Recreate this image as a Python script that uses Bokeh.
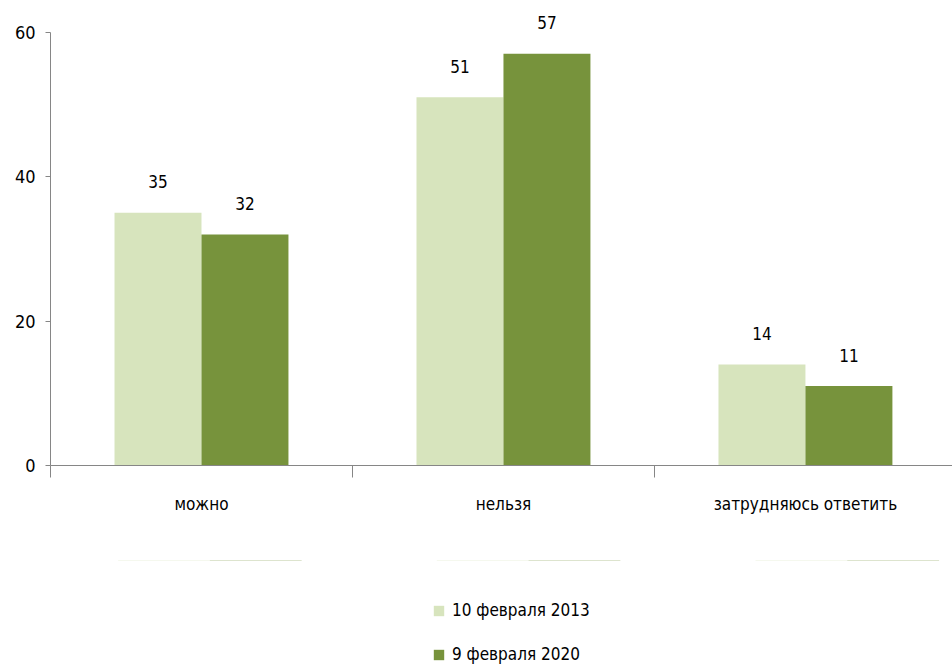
import numpy as np
from bokeh.plotting import figure
from bokeh.layouts import column
from bokeh.models import (ColumnDataSource, Range1d, LinearAxis, FixedTicker,
                          Legend, LegendItem)
from bokeh.core.properties import value
from bokeh.embed import file_html
from bokeh.resources import INLINE

categories = ["можно", "нельзя", "затрудняюсь ответить"]
series_names = ["10 февраля 2013", "9 февраля 2020"]
values_2013 = [35, 51, 14]
values_2020 = [32, 57, 11]
y_ticks = [0, 20, 40, 60]

colors = ["#d7e4bd", "#77933c"]
FONT = "DejaVu Sans Condensed"

idx = np.arange(len(categories))
bar_w = 0.288
src1 = ColumnDataSource(dict(x=idx + 0.5 - bar_w / 2, top=values_2013,
                             lab=[str(v) for v in values_2013]))
src2 = ColumnDataSource(dict(x=idx + 0.5 + bar_w / 2, top=values_2020,
                             lab=[str(v) for v in values_2020]))

p = figure(frame_width=902, frame_height=455,
           x_range=Range1d(0, 2.987), y_range=Range1d(0, 63),
           output_backend="svg", toolbar_location=None,
           x_axis_location=None, y_axis_location=None,
           min_border_left=50, min_border_top=10, min_border_right=0,
           min_border_bottom=95)
p.outline_line_color = None
p.xgrid.visible = False
p.ygrid.visible = False

r1 = p.vbar(x="x", top="top", width=bar_w, bottom=0, source=src1,
            fill_color=colors[0], line_color=None)
r2 = p.vbar(x="x", top="top", width=bar_w, bottom=0, source=src2,
            fill_color=colors[1], line_color=None)

for s in (src1, src2):
    p.text(x="x", y="top", text="lab", source=s, y_offset=-31,
           text_align="center", text_baseline="middle",
           text_font=value(FONT), text_font_size="17px", text_color="#000000")

axis_color = "#868686"
yaxis = LinearAxis(ticker=FixedTicker(ticks=y_ticks), bounds=(0, 60))
yaxis.axis_line_color = axis_color
yaxis.major_tick_line_color = axis_color
yaxis.major_tick_out = 5
yaxis.major_tick_in = 0
yaxis.minor_tick_line_color = None
yaxis.major_label_standoff = 10
yaxis.major_label_text_font = FONT
yaxis.major_label_text_font_size = "18px"
yaxis.major_label_text_color = "#000000"
p.add_layout(yaxis, "left")

xaxis = LinearAxis(ticker=FixedTicker(ticks=list(idx + 0.5),
                                      minor_ticks=list(range(len(categories) + 1))))
xaxis.major_label_overrides = {float(i + 0.5): c for i, c in enumerate(categories)}
xaxis.axis_line_color = axis_color
xaxis.major_tick_line_color = None
xaxis.major_tick_out = 0
xaxis.major_tick_in = 0
xaxis.minor_tick_line_color = axis_color
xaxis.minor_tick_out = 12
xaxis.minor_tick_in = 0
xaxis.major_label_standoff = 16
xaxis.major_label_text_font = FONT
xaxis.major_label_text_font_size = "17px"
xaxis.major_label_text_color = "#000000"
p.add_layout(xaxis, "below")

# Legend strip: second figure; its swatch renderers are zero-height bars outside the view
p2 = figure(frame_width=952, frame_height=104,
            x_range=Range1d(0, 2.987), y_range=Range1d(0, 1),
            output_backend="svg", toolbar_location=None,
            x_axis_location=None, y_axis_location=None,
            min_border_left=0, min_border_top=0, min_border_right=0,
            min_border_bottom=0)
p2.outline_line_color = None
p2.xgrid.visible = False
p2.ygrid.visible = False
l1 = p2.vbar(x="x", top="top", bottom="top", width=bar_w, source=src1,
             fill_color=colors[0], line_color=None)
l2 = p2.vbar(x="x", top="top", bottom="top", width=bar_w, source=src2,
             fill_color=colors[1], line_color=None)

legend = Legend(items=[LegendItem(label=series_names[0], renderers=[l1]),
                       LegendItem(label=series_names[1], renderers=[l2])],
                location=(432, 0), orientation="vertical")
legend.glyph_width = 13
legend.glyph_height = 13
legend.label_height = 16
legend.spacing = 24
legend.padding = 0
legend.margin = 0
legend.label_standoff = 7
legend.label_text_font = FONT
legend.label_text_font_size = "17px"
legend.label_text_color = "#000000"
legend.border_line_color = None
legend.background_fill_alpha = 0
p2.add_layout(legend, "center")

layout = column(p, p2, spacing=0)
open("out.html", "w").write(file_html(layout, INLINE))
